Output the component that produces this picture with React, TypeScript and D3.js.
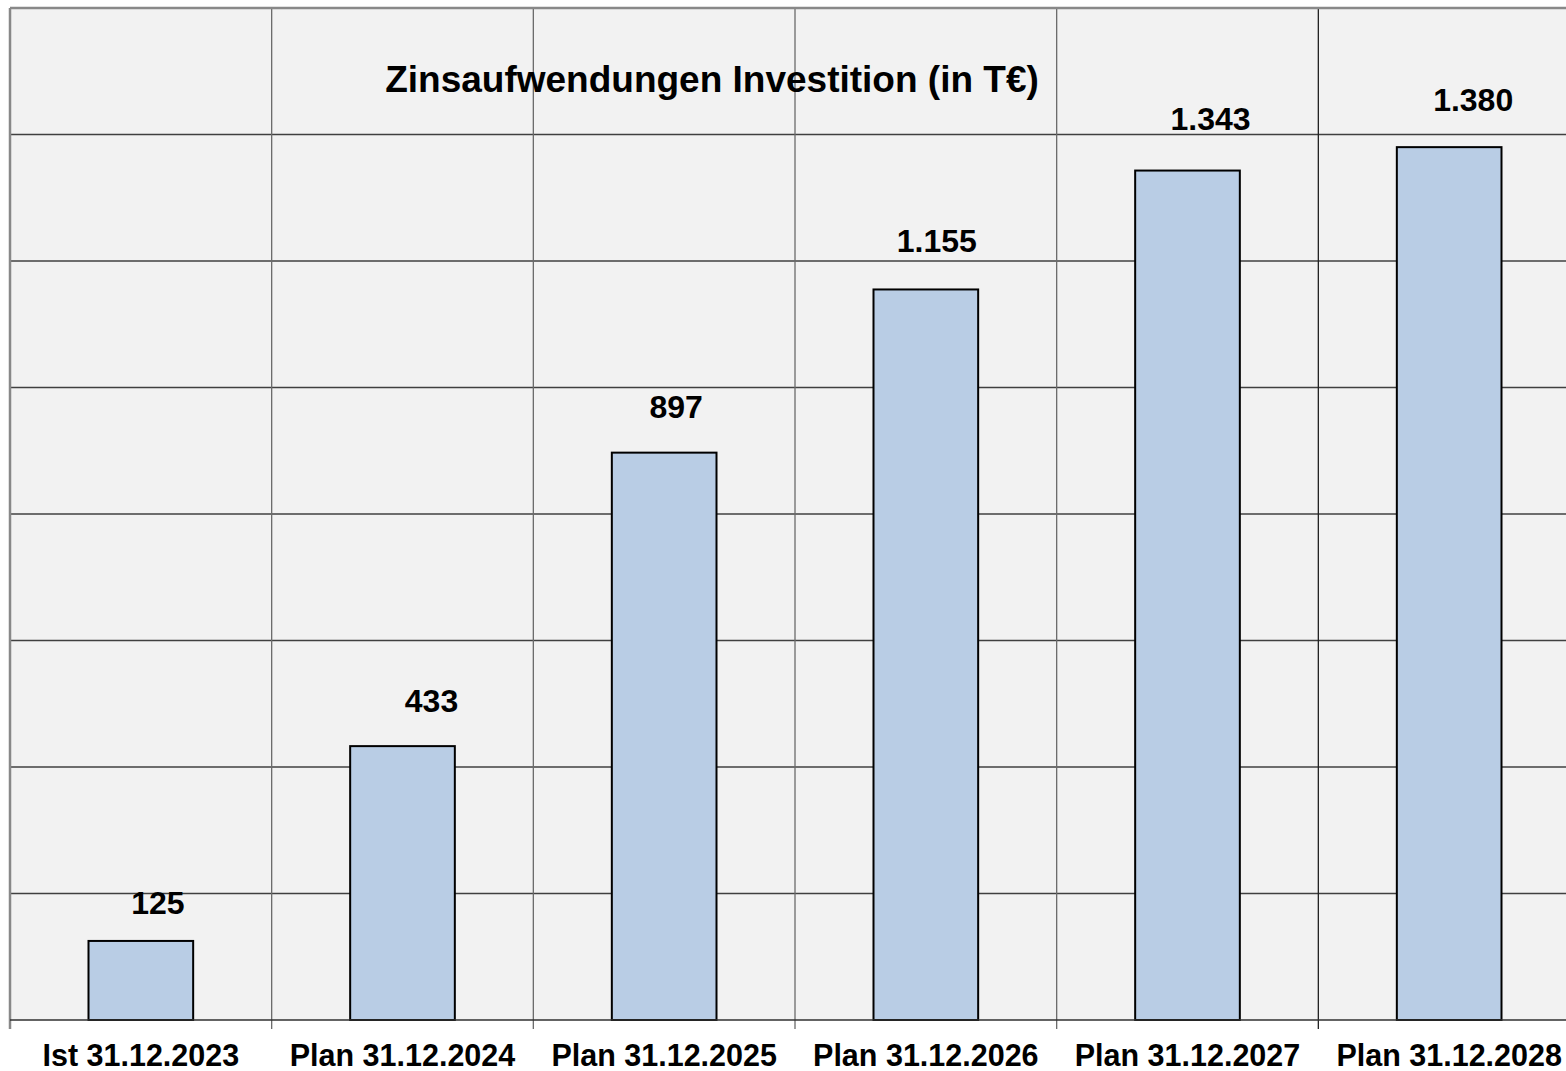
import { useEffect, useRef } from 'react'
import * as d3 from 'd3'

const categories = [
  'Ist 31.12.2023',
  'Plan 31.12.2024',
  'Plan 31.12.2025',
  'Plan 31.12.2026',
  'Plan 31.12.2027',
  'Plan 31.12.2028',
]
const values = [125, 433, 897, 1155, 1343, 1380]
const yTicks = [0, 200, 400, 600, 800, 1000, 1200, 1400, 1600]
const title = 'Zinsaufwendungen Investition (in T€)'

// data labels were nudged by hand in the original, keep that look
const labelDx = [17, 29, 12, 11, 23, 24]
const labelGap = [27, 34, 35, 37, 41, 36]

const W = 1566
const H = 1071
const PLOT = { left: 10, right: 1580, top: 8, bottom: 1020 }
const FONT = 'Liberation Sans, Arial, sans-serif'

const fmt = (v: number) => d3.format(',')(v).replace(/,/g, '.')

export default function App() {
  const svgRef = useRef<SVGSVGElement | null>(null)

  useEffect(() => {
    if (!svgRef.current) return
    const svg = d3.select(svgRef.current)
    svg.selectAll('*').remove()

    const x = d3.scaleBand().domain(categories).range([PLOT.left, PLOT.right]).padding(0)
    const y = d3.scaleLinear().domain([0, 1600]).range([PLOT.bottom, PLOT.top])
    const barW = x.bandwidth() * 0.4

    // plot background
    svg.append('rect')
      .attr('x', PLOT.left).attr('y', PLOT.top)
      .attr('width', PLOT.right - PLOT.left).attr('height', PLOT.bottom - PLOT.top)
      .attr('fill', '#f2f2f2')

    // horizontal grid
    svg.append('g')
      .selectAll('line')
      .data(yTicks.filter(t => t > 0 && t < 1600))
      .enter()
      .append('line')
      .attr('x1', PLOT.left).attr('x2', PLOT.right)
      .attr('y1', d => y(d)).attr('y2', d => y(d))
      .attr('stroke', '#404040')
      .attr('stroke-width', 1.3)

    // vertical grid between categories
    svg.append('g')
      .selectAll('line')
      .data(categories.slice(1))
      .enter()
      .append('line')
      .attr('x1', d => x(d)!).attr('x2', d => x(d)!)
      .attr('y1', PLOT.top).attr('y2', PLOT.bottom + 9)
      .attr('stroke', (d, i) => i === categories.length - 2 ? '#202020' : '#6a6a6a')
      .attr('stroke-width', 1.3)

    // top and left border
    svg.append('line')
      .attr('x1', PLOT.left).attr('x2', PLOT.right)
      .attr('y1', PLOT.top).attr('y2', PLOT.top)
      .attr('stroke', '#888').attr('stroke-width', 2.5)
    svg.append('line')
      .attr('x1', PLOT.left).attr('x2', PLOT.left)
      .attr('y1', PLOT.top).attr('y2', PLOT.bottom + 9)
      .attr('stroke', '#888').attr('stroke-width', 2.5)

    // bars
    svg.append('g')
      .selectAll('rect')
      .data(values)
      .enter()
      .append('rect')
      .attr('x', (d, i) => x(categories[i])! + (x.bandwidth() - barW) / 2)
      .attr('y', d => y(d))
      .attr('width', barW)
      .attr('height', d => y(0) - y(d))
      .attr('fill', '#b9cde5')
      .attr('stroke', '#000')
      .attr('stroke-width', 2)

    // x axis baseline
    svg.append('line')
      .attr('x1', PLOT.left).attr('x2', PLOT.right)
      .attr('y1', PLOT.bottom).attr('y2', PLOT.bottom)
      .attr('stroke', '#303030').attr('stroke-width', 1.5)

    // value labels
    svg.append('g')
      .selectAll('text')
      .data(values)
      .enter()
      .append('text')
      .attr('x', (d, i) => x(categories[i])! + x.bandwidth() / 2 + labelDx[i])
      .attr('y', (d, i) => y(d) - labelGap[i])
      .attr('text-anchor', 'middle')
      .attr('font-family', FONT)
      .attr('font-weight', 'bold')
      .attr('font-size', 32)
      .attr('fill', '#000')
      .text(d => fmt(d))

    // category labels
    svg.append('g')
      .selectAll('text')
      .data(categories)
      .enter()
      .append('text')
      .attr('x', d => x(d)! + x.bandwidth() / 2)
      .attr('y', 1066)
      .attr('text-anchor', 'middle')
      .attr('font-family', FONT)
      .attr('font-weight', 'bold')
      .attr('font-size', 30.5)
      .attr('fill', '#000')
      .text(d => d)

    // title
    svg.append('text')
      .attr('x', 712)
      .attr('y', 92)
      .attr('text-anchor', 'middle')
      .attr('font-family', FONT)
      .attr('font-weight', 'bold')
      .attr('font-size', 37)
      .attr('fill', '#000')
      .text(title)
  }, [])

  return (
    <svg
      ref={svgRef}
      width={W}
      height={H}
      style={{ position: 'absolute', left: 0, top: 0, background: '#fff', display: 'block' }}
    />
  )
}
